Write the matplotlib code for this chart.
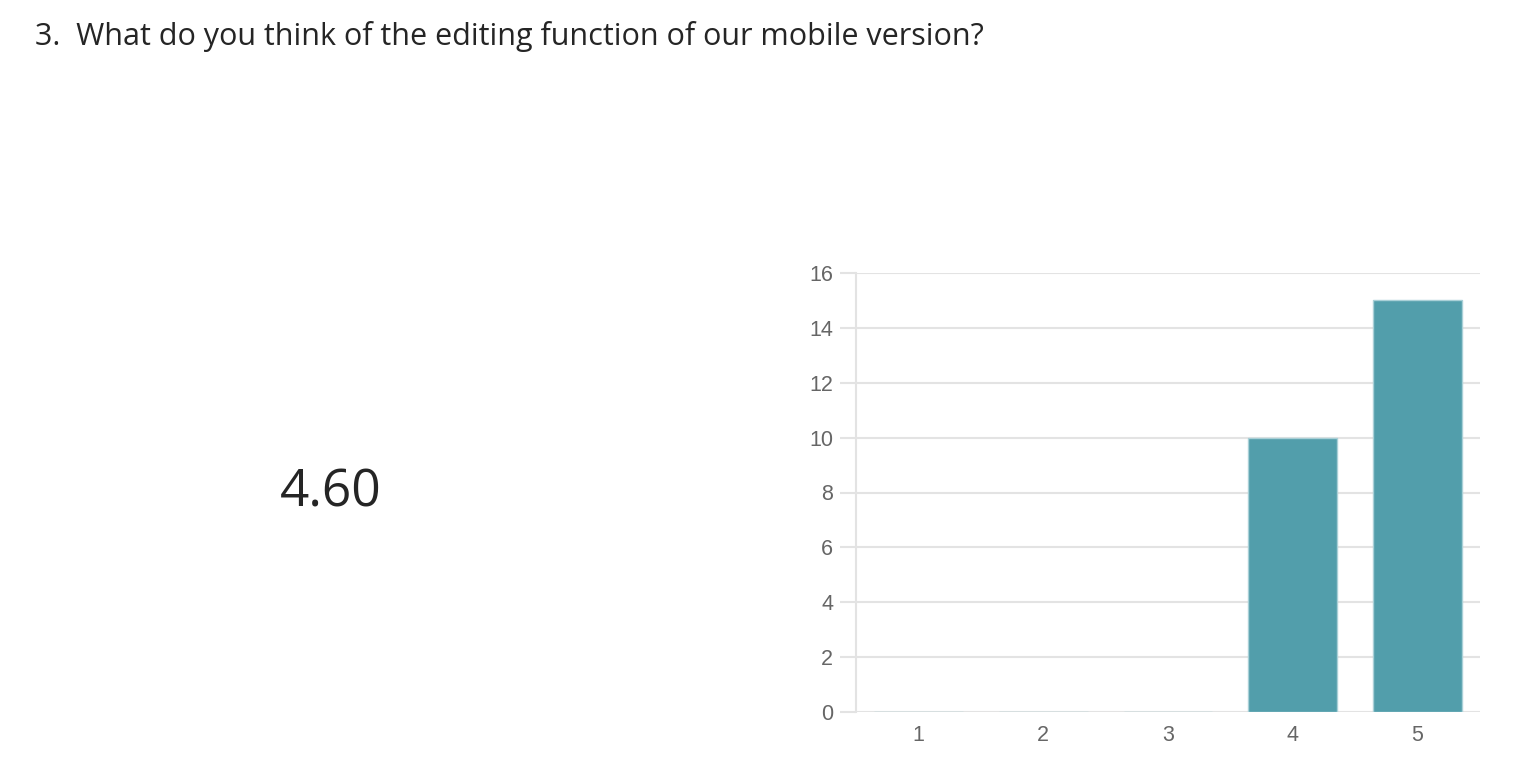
import matplotlib
matplotlib.use("Agg")
import matplotlib.pyplot as plt

categories = ["1", "2", "3", "4", "5"]
counts = [0, 0, 0, 10, 15]
average_score = "4.60"
title = "3.  What do you think of the editing function of our mobile version?"
yticks = [0, 2, 4, 6, 8, 10, 12, 14, 16]

W, H = 1528, 764
fig = plt.figure(figsize=(W / 100, H / 100), dpi=100)
fig.patch.set_facecolor("white")

grid_c = "#e3e3e3"
label_c = "#666666"

ax = fig.add_axes([856 / W, 1 - 712 / H, (1480 - 856) / W, (712 - 273) / H])
x = list(range(len(categories)))
ax.bar(x, counts, width=0.71, color="#529eab", edgecolor="#a9d0d7", linewidth=1.0, zorder=3)
ax.set_xlim(-0.5, len(categories) - 0.5)
ax.set_ylim(0, 16)
ax.set_yticks(yticks)
ax.set_yticklabels([str(t) for t in yticks])
ax.set_xticks(x)
ax.set_xticklabels(categories)
ax.grid(axis="y", color=grid_c, linewidth=1.5, zorder=0)
for s in ["top", "right", "bottom"]:
    ax.spines[s].set_visible(False)
ax.spines["left"].set_color(grid_c)
ax.spines["left"].set_linewidth(1.5)
ax.tick_params(axis="y", length=11.5, width=1.5, color=grid_c, labelcolor=label_c,
               labelsize=15.5, pad=5)
ax.tick_params(axis="x", length=0, labelcolor=label_c, labelsize=15.5, pad=9.5)
for lab in ax.get_xticklabels() + ax.get_yticklabels():
    lab.set_family(["Liberation Sans", "DejaVu Sans"])

fig.text(35 / W, 1 - 36 / H, title, ha="left", va="center", fontsize=22,
         color="#252525", family=["Open Sans", "DejaVu Sans"])
fig.text(331 / W, 1 - 493 / H, average_score, ha="center", va="center", fontsize=37,
         color="#252525", family=["Open Sans", "DejaVu Sans"])

fig.savefig("out.png", dpi=100, facecolor="white")
